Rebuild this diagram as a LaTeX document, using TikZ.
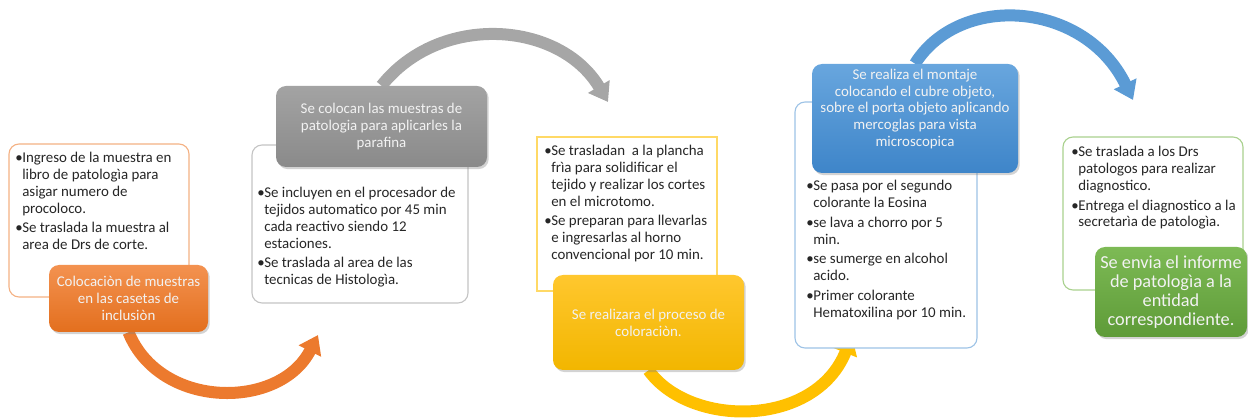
\documentclass[tikz,border=0pt]{standalone}
\usepackage{fontspec}
\setmainfont{Carlito}
\usetikzlibrary{arrows.meta,shadows,backgrounds}

\definecolor{orangetop}{HTML}{F39250}
\definecolor{orangebot}{HTML}{E36F1E}
\definecolor{orangeline}{HTML}{F4B183}
\definecolor{orangearc}{HTML}{EC7A2E}
\definecolor{graytop}{HTML}{A3A3A3}
\definecolor{graybot}{HTML}{8A8A8A}
\definecolor{grayline}{HTML}{C4C4C4}
\definecolor{grayarc}{HTML}{A6A6A6}
\definecolor{yellowtop}{HTML}{FFC72E}
\definecolor{yellowbot}{HTML}{F2B600}
\definecolor{yellowline}{HTML}{FFD966}
\definecolor{yellowarc}{HTML}{FFC000}
\definecolor{bluetop}{HTML}{68A6DE}
\definecolor{bluebot}{HTML}{3E85C9}
\definecolor{blueline}{HTML}{9DC3E6}
\definecolor{bluearc}{HTML}{5B9BD5}
\definecolor{greentop}{HTML}{7DBA55}
\definecolor{greenbot}{HTML}{5E9B38}
\definecolor{greenline}{HTML}{A9D18E}
\definecolor{textgray}{HTML}{262626}

\newcommand{\listfont}{\fontsize{10.6}{12}\selectfont}
\newcommand{\tagfont}{\fontsize{10.6}{12}\selectfont}
\newcommand{\bigtagfont}{\fontsize{13}{13.6}\selectfont}
\newcommand{\bu}{\makebox[5pt][l]{\textbullet}}
\newcommand{\bi}{\hspace*{5pt}}

\tikzset{
  sized/.style 2 args={minimum width=#1*0.025cm, minimum height=#2*0.025cm, inner sep=0pt},
  notebox/.style={draw=#1, fill=white, rounded corners=0.25cm, line width=0.8pt},
  tagbox/.style 2 args={top color=#1, bottom color=#2, draw=none, rounded corners=0.25cm,
    text=white!95!black, align=center, font=\tagfont,
    drop shadow={shadow xshift=1.2pt, shadow yshift=-1.5pt, opacity=0.35}},
  itemtext/.style={anchor=north west, align=left, inner sep=0pt, text=textgray, font=\listfont},
  flowarrow/.style={draw=#1, line width=0.3cm, -{Triangle[width=0.6cm,length=0.45cm]}}
}

\begin{document}
\begin{tikzpicture}[x=0.025cm, y=-0.025cm]
  \useasboundingbox (0,0) rectangle (1248,418);

  % first step
  \node[notebox=orangeline, sized={180}{153}] (note1) at (99,220.5) {};
  \node[itemtext] (list1) at (15,152) {\bu Ingreso de la muestra en\\
    \bi libro de patologìa para\\ \bi asigar numero de\\ \bi procoloco.\\[2pt]
    \bu Se traslada la muestra al\\ \bi area de Drs de corte.};
  \node[tagbox={orangetop}{orangebot}, sized={159}{67}] (obox) at (128.5,298.5)
    {Colocaciòn de muestras\\en las casetas de\\inclusiòn};

  % second step
  \node[notebox=grayline, sized={216}{158}] (note2) at (360,224) {};
  \node[itemtext] (list2) at (257,187) {\bu Se incluyen en el procesador de\\
    \bi tejidos automatico por 45 min\\ \bi cada reactivo siendo 12\\ \bi estaciones.\\[2pt]
    \bu Se traslada al area de las\\ \bi tecnicas de Histologìa.};
  \node[tagbox={graytop}{graybot}, sized={211}{81}] (gbox) at (381.5,126.5)
    {Se colocan las muestras de\\patologia para aplicarles la\\parafina};

  % third step
  \node[notebox=yellowline, rounded corners=0pt, sized={180}{154}] (note3) at (627,214) {};
  \node[itemtext] (list3) at (544,145) {\bu Se trasladan\ \ a la plancha\\
    \bi frìa para solidificar el\\ \bi tejido y realizar los cortes\\ \bi en el microtomo.\\[2pt]
    \bu Se preparan para llevarlas\\ \bi e ingresarlas al horno\\ \bi convencional por 10 min.};
  \node[tagbox={yellowtop}{yellowbot}, sized={191}{95}] (ybox) at (648.5,322.5)
    {Se realizara el proceso de\\coloraciòn.};

  % fourth step
  \node[notebox=blueline, sized={182}{246}] (note4) at (886,225) {};
  \node[itemtext] (list4) at (806,180) {\bu Se pasa por el segundo\\
    \bi colorante la Eosina\\[2pt]
    \bu se lava a chorro por 5\\ \bi min.\\[2pt]
    \bu se sumerge en alcohol\\ \bi acido.\\[2pt]
    \bu Primer colorante\\ \bi Hematoxilina por 10 min.};
  \node[tagbox={bluetop}{bluebot}, sized={206}{109}] (bbox) at (915,118.5) {};
  \node[align=center, text=white!95!black, font=\tagfont, inner sep=0pt] (btext) at (915,109)
    {Se realiza el montaje\\colocando el cubre objeto,\\sobre el porta objeto aplicando\\mercoglas para vista\\microscopica};

  % fifth step
  \node[notebox=greenline, sized={180}{153}] (note5) at (1153,213.5) {};
  \node[itemtext] (list5) at (1071,146) {\bu Se traslada a los Drs\\
    \bi patologos para realizar\\ \bi diagnostico.\\[2pt]
    \bu Entrega el diagnostico a la\\ \bi secretarìa de patologìa.};
  \node[tagbox={greentop}{greenbot}, sized={152}{90}, font=\bigtagfont] (grbox) at (1171,292)
    {Se envia el informe\\de patologìa a la\\entidad\\correspondiente.};

  % curved arrows behind the boxes
  \coordinate (oend) at (318,335);
  \coordinate (gend) at (608,102);
  \coordinate (yend) at (852,336);
  \coordinate (bend) at (1133,100);
  \begin{scope}[on background layer]
    \draw[flowarrow=orangearc] (obox.south) .. controls (160,410) and (280,410) .. (oend);
    \draw[flowarrow=grayarc] (gbox.north) .. controls (440,12) and (560,21) .. (gend);
    \draw[flowarrow=yellowarc] (ybox.south) .. controls (690,428) and (815,428) .. (yend);
    \draw[flowarrow=bluearc] (bbox.north) .. controls (960,-8) and (1085,1) .. (bend);
  \end{scope}
\end{tikzpicture}
\end{document}
